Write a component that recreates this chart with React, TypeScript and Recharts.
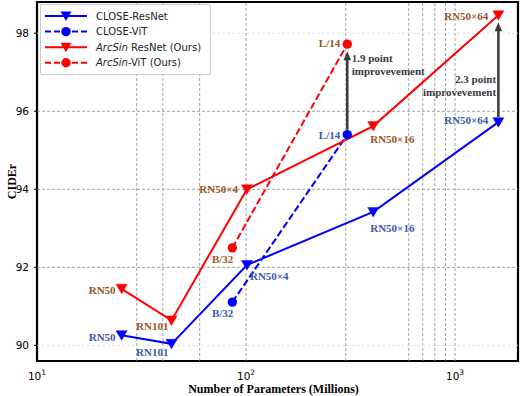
import React from 'react';
import { ComposedChart, Line, XAxis, YAxis, ReferenceLine, ReferenceArea, LabelList, Label } from 'recharts';

// model sizes (millions of params) and CIDEr scores
const resnetModels = ['RN50', 'RN101', 'RN50×4', 'RN50×16', 'RN50×64'];
const resnetParams = [25.4, 44, 101, 406, 1611];
const closeResnetCider = [90.26, 90.04, 92.06, 93.42, 95.72];
const arcsinResnetCider = [91.45, 90.64, 94.0, 95.62, 98.46];

const vitModels = ['B/32', 'L/14'];
const vitParams = [86, 305];
const closeVitCider = [91.11, 95.4];
const arcsinVitCider = [92.5, 97.72];

const yTicks = [90, 92, 94, 96, 98];
const xTicks = [10, 100, 1000];
const xGrid = [30, 40, 60, 100, 300, 600, 700, 800, 900, 1000];

const gainTexts = ['1.9 point', '2.3 point'];
const gainWord = 'improvevement';

const BLUE = '#0000ff';
const RED = '#ff0000';
const BROWN = '#98541f';
const STEEL = '#3a5aa8';
const ARROW = '#3a3a3a';
const SERIF = '"Liberation Serif", "Times New Roman", serif';
const SANS = '"DejaVu Sans", sans-serif';

const toRows = (names: string[], xs: number[], ys: number[]) =>
  names.map((name, i) => ({ name, x: xs[i], y: ys[i] }));

const closeResnet = toRows(resnetModels, resnetParams, closeResnetCider);
const arcsinResnet = toRows(resnetModels, resnetParams, arcsinResnetCider);
const closeVit = toRows(vitModels, vitParams, closeVitCider);
const arcsinVit = toRows(vitModels, vitParams, arcsinVitCider);

const gains = [
  { x: vitParams[1], from: closeVitCider[1], to: arcsinVitCider[1] },
  { x: resnetParams[4], from: closeResnetCider[4], to: arcsinResnetCider[4] },
];

// label placement relative to the marker: dx, dy, anchor
type Pos = [number, number, 'start' | 'end'];
const arcsinLabelPos: Record<string, Pos> = {
  RN50: [-6, 5, 'end'],
  RN101: [-3, 10, 'end'],
  'RN50×4': [-9, 4, 'end'],
  'RN50×16': [-3, 16.6, 'start'],
  'RN50×64': [-10, 4.7, 'end'],
  'B/32': [1, 15.6, 'end'],
  'L/14': [-7, 3.3, 'end'],
};
const closeLabelPos: Record<string, Pos> = {
  RN50: [-6, 5.7, 'end'],
  RN101: [-3, 12.4, 'end'],
  'RN50×4': [3, 15, 'start'],
  'RN50×16': [-3, 20, 'start'],
  'RN50×64': [-10, 1.6, 'end'],
  'B/32': [1, 15, 'end'],
  'L/14': [-7, 4.7, 'end'],
};
// annotation text: dx from arrow, dy from arrow top, anchor
const gainTextPos: Pos[] = [
  [4.4, 18.3, 'start'],
  [-2.3, 68, 'end'],
];

const tri = (cx: number, cy: number) =>
  `${cx - 5.5},${cy - 4.5} ${cx + 5.5},${cy - 4.5} ${cx},${cy + 5}`;

const triangleDot = (color: string) => (props: any) => {
  const { cx, cy, index } = props;
  if (cx == null || cy == null) return <g key={index} />;
  return <polygon key={index} points={tri(cx, cy)} fill={color} stroke={color} strokeWidth={0.5} />;
};

const circleDot = (color: string) => (props: any) => {
  const { cx, cy, index } = props;
  if (cx == null || cy == null) return <g key={index} />;
  return <circle key={index} cx={cx} cy={cy} r={4.7} fill={color} />;
};

const makeLabel = (pos: Record<string, Pos>, color: string) => (props: any) => {
  const x = props.x ?? props.viewBox?.x;
  const y = props.y ?? props.viewBox?.y;
  const p = pos[props.value];
  if (!p || x == null || y == null) return null;
  return (
    <text x={x + p[0]} y={y + p[1]} textAnchor={p[2]} fill={color} fontFamily={SERIF} fontWeight="bold" fontSize={11}>
      {props.value}
    </text>
  );
};

const makeArrow = (i: number) => (props: any) => {
  const { x1, y1, x2, y2 } = props;
  if (x1 == null) return <g />;
  const tip = y2 + 7;
  const p = gainTextPos[i];
  const tx = x1 + p[0];
  const ty = y2 + p[1];
  return (
    <g>
      <line x1={x1} y1={y1 - 5} x2={x2} y2={tip + 8} stroke={ARROW} strokeWidth={2.5} />
      <polygon points={`${x2 - 3.8},${tip + 9} ${x2 + 3.8},${tip + 9} ${x2},${tip}`} fill={ARROW} />
      <text x={tx} y={ty} textAnchor={p[2]} fill={ARROW} fontFamily={SERIF} fontWeight="bold" fontSize={11}>
        {gainTexts[i]}
      </text>
      <text x={tx} y={ty + 12.5} textAnchor={p[2]} fill={ARROW} fontFamily={SERIF} fontWeight="bold" fontSize={11}>
        {gainWord}
      </text>
    </g>
  );
};

const PowerTick = (props: any) => {
  const { x, y, payload } = props;
  const exp = Math.round(Math.log10(payload.value));
  return (
    <text x={x} y={y + 10.5} textAnchor="middle" fontFamily={SANS} fontSize={10.5} fill="#000">
      <tspan>10</tspan>
      <tspan dy={-5} fontSize={7.5}>{exp}</tspan>
    </text>
  );
};

const YTitle = (props: any) => {
  const vb = props.viewBox || {};
  const cx = 12;
  const cy = (vb.y ?? 2) + (vb.height ?? 358) / 2;
  return (
    <text
      x={cx}
      y={cy}
      transform={`rotate(-90 ${cx} ${cy})`}
      textAnchor="middle"
      dominantBaseline="central"
      fontFamily={SERIF}
      fontWeight="bold"
      fontSize={12}
      fill="#000"
    >
      CIDEr
    </text>
  );
};

const legendItems = [
  { name: 'CLOSE-ResNet', color: BLUE, dashed: false, marker: 'tri' },
  { name: 'CLOSE-ViT', color: BLUE, dashed: true, marker: 'circle' },
  { name: 'ArcSin ResNet (Ours)', color: RED, dashed: false, marker: 'tri', italic: 'ArcSin', rest: ' ResNet (Ours)' },
  { name: 'ArcSin-ViT (Ours)', color: RED, dashed: true, marker: 'circle', italic: 'ArcSin', rest: '-ViT (Ours)' },
];

function ChartLegend() {
  return (
    <div
      style={{
        position: 'absolute',
        left: 40,
        top: 4,
        width: 169,
        height: 69,
        border: '1px solid #cccccc',
        borderRadius: 2,
        background: '#fff',
      }}
    >
      <svg width={169} height={69}>
        {legendItems.map((it, i) => {
          const cy = 11 + 15.6 * i;
          return (
            <g key={it.name}>
              <line x1={4} y1={cy} x2={46} y2={cy} stroke={it.color} strokeWidth={2} strokeDasharray={it.dashed ? '6 3' : undefined} />
              {it.marker === 'tri' ? (
                <polygon points={tri(25, cy)} fill={it.color} />
              ) : (
                <circle cx={25} cy={cy} r={4.7} fill={it.color} />
              )}
              <text x={55} y={cy + 3.6} fontFamily={SANS} fontSize={10} fill="#222">
                {it.italic ? (
                  <>
                    <tspan fontStyle="italic">{it.italic}</tspan>
                    <tspan>{it.rest}</tspan>
                  </>
                ) : (
                  it.name
                )}
              </text>
            </g>
          );
        })}
      </svg>
    </div>
  );
}

export default function App() {
  return (
    <div style={{ position: 'absolute', left: 0, top: 0, width: 520, height: 396, background: '#fff' }}>
      <ComposedChart width={520} height={396} margin={{ top: 2, right: 2, bottom: 0, left: 0 }}>
        <XAxis
          dataKey="x"
          type="number"
          scale="log"
          domain={[10, 2000]}
          allowDataOverflow
          ticks={xTicks}
          tick={<PowerTick />}
          tickLine={false}
          axisLine={false}
          height={35}
        >
          <Label
            value="Number of Parameters (Millions)"
            position="insideBottom"
            offset={3}
            dx={-4}
            style={{ fontFamily: SERIF, fontWeight: 'bold', fontSize: 12, fill: '#000' }}
          />
        </XAxis>
        <YAxis
          type="number"
          domain={[89.6, 98.8]}
          allowDataOverflow
          ticks={yTicks}
          width={37}
          tickSize={3}
          tickMargin={5}
          axisLine={false}
          tickLine={{ stroke: '#000' }}
          tick={{ fontFamily: SANS, fontSize: 10.5, fill: '#000' }}
        >
          <Label content={<YTitle />} />
        </YAxis>

        {xGrid.map((v) => (
          <ReferenceLine key={`gx${v}`} x={v} stroke="#8a8a8a" strokeWidth={0.8} strokeDasharray="3 2" />
        ))}
        {yTicks.map((v) => (
          <ReferenceLine
            key={`gy${v}`}
            y={v}
            stroke={v === 90 || v === 98 ? '#dddddd' : '#8a8a8a'}
            strokeWidth={0.8}
            strokeDasharray="3 2"
          />
        ))}

        <Line data={closeResnet} dataKey="y" stroke={BLUE} strokeWidth={2} dot={triangleDot(BLUE)} isAnimationActive={false}>
          <LabelList dataKey="name" content={makeLabel(closeLabelPos, STEEL)} />
        </Line>
        <Line data={closeVit} dataKey="y" stroke={BLUE} strokeWidth={2} strokeDasharray="7 3" dot={circleDot(BLUE)} isAnimationActive={false}>
          <LabelList dataKey="name" content={makeLabel(closeLabelPos, STEEL)} />
        </Line>
        <Line data={arcsinResnet} dataKey="y" stroke={RED} strokeWidth={2} dot={triangleDot(RED)} isAnimationActive={false}>
          <LabelList dataKey="name" content={makeLabel(arcsinLabelPos, BROWN)} />
        </Line>
        <Line data={arcsinVit} dataKey="y" stroke={RED} strokeWidth={2} strokeDasharray="7 3" dot={circleDot(RED)} isAnimationActive={false}>
          <LabelList dataKey="name" content={makeLabel(arcsinLabelPos, BROWN)} />
        </Line>

        {gains.map((g, i) => (
          <ReferenceLine
            key={`gain${i}`}
            segment={[
              { x: g.x, y: g.from },
              { x: g.x, y: g.to },
            ]}
            shape={makeArrow(i)}
          />
        ))}

        <ReferenceArea x1={10} x2={2000} y1={89.6} y2={98.8} fill="none" fillOpacity={0} stroke="#000" strokeWidth={2.2} />
      </ComposedChart>
      <ChartLegend />
    </div>
  );
}
